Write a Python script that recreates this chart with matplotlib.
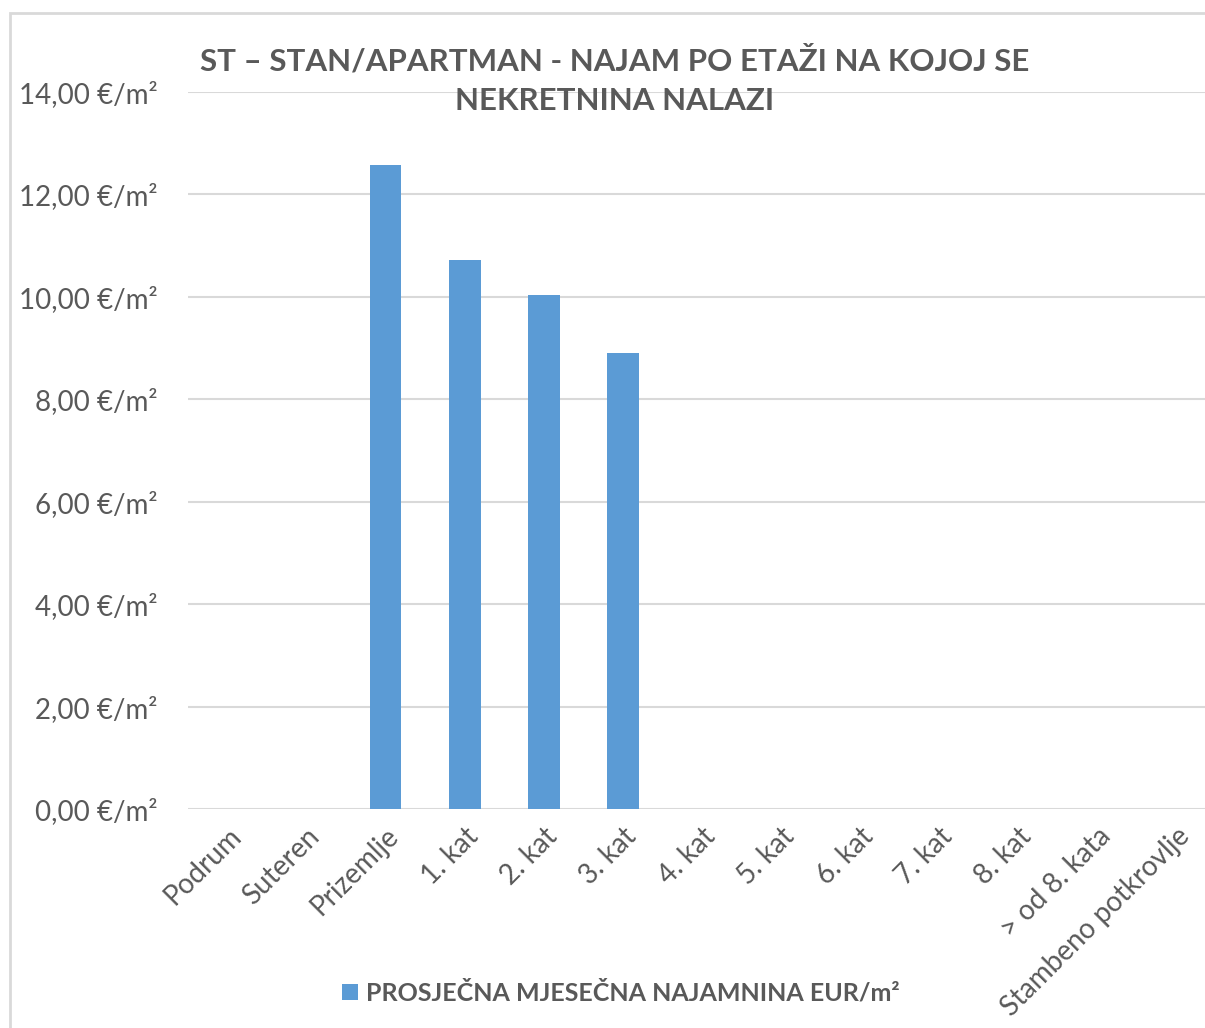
import matplotlib.pyplot as plt
import numpy as np
from matplotlib.patches import Rectangle
from matplotlib.ticker import FuncFormatter

categories = ["Podrum", "Suteren", "Prizemlje", "1. kat", "2. kat", "3. kat", "4. kat",
              "5. kat", "6. kat", "7. kat", "8. kat", "> od 8. kata", "Stambeno potkrovlje"]
rent = [np.nan, np.nan, 12.58, 10.72, 10.03, 8.90, np.nan,
        np.nan, np.nan, np.nan, np.nan, np.nan, np.nan]
series_name = "PROSJEČNA MJESEČNA NAJAMNINA EUR/m²"
title = "ST – STAN/APARTMAN - NAJAM PO ETAŽI NA KOJOJ SE\nNEKRETNINA NALAZI"

text_color = "#595959"
bar_color = "#5b9bd5"
grid_color = "#d9d9d9"

plt.rcParams["font.family"] = ["Lato", "DejaVu Sans"]

fig = plt.figure(figsize=(12.05, 10.28), dpi=100)
ax = fig.add_axes([0.156, 0.213, 0.853, 0.6975])

x = np.arange(len(categories))
ax.bar(x, rent, width=0.4, color=bar_color, zorder=3, label=series_name)

ax.set_xlim(-0.5, len(categories) - 0.5)
ax.set_ylim(0, 14)
ax.set_yticks(np.arange(0, 15, 2))
ax.yaxis.set_major_formatter(FuncFormatter(lambda v, _: f"{v:.2f}".replace(".", ",") + " €/m²"))
ax.grid(axis="y", color=grid_color, linewidth=1.5, zorder=0)
for s in ax.spines.values():
    s.set_visible(False)
ax.tick_params(length=0, labelsize=20, colors=text_color)
ax.tick_params(axis="y", pad=22)
ax.set_xticks(x)
ax.set_xticklabels(categories, rotation=45, ha="right", rotation_mode="anchor")
ax.tick_params(axis="x", pad=10)

fig.text(0.51, 0.922, title, ha="center", va="center", fontsize=22.5, fontweight="bold",
         color=text_color, linespacing=1.5)

fig.legend(loc="center", bbox_to_anchor=(0.515, 0.034), frameon=False,
           prop={"size": 18, "weight": "bold"}, labelcolor=text_color,
           handlelength=0.65, handleheight=0.65, handletextpad=0.3)

fig.patches.append(Rectangle((0.0083, -0.05), 1.1, 1.037, transform=fig.transFigure,
                             fill=False, edgecolor=grid_color, linewidth=2))

fig.savefig("out.png", dpi=100)
